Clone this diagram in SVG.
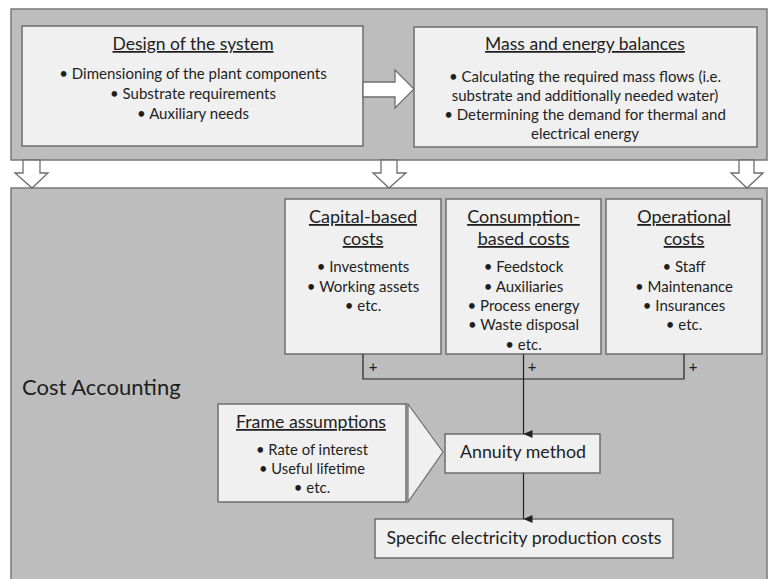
<svg xmlns="http://www.w3.org/2000/svg" width="769" height="579" viewBox="0 0 769 579">
<style>
.panel{fill:#bdbdbd;stroke:#7a7a7a;stroke-width:1.5}
.box{fill:#f0f0f0;stroke:#6e6e6e;stroke-width:1.5}
.barrow{fill:#ffffff;stroke:#6e6e6e;stroke-width:1.3}
.t{font-family:Lato,"Open Sans",sans-serif;fill:#1e1e1e;text-anchor:middle}
.h{font-size:17.5px;text-decoration:underline}
.hc{font-size:18px;text-decoration:underline}
.b{font-size:15px}
.ln{stroke:#222;stroke-width:1.2;fill:none}
</style>
<defs>
<marker id="ah" markerWidth="10" markerHeight="10" refX="5" refY="9" orient="auto" markerUnits="userSpaceOnUse" viewBox="0 0 10 10">
<path d="M1,0 L5,9 L9,0 Z" fill="#222"/>
</marker>
</defs>
<rect width="769" height="579" fill="#ffffff"/>
<g id="top-panel"><rect class="panel" x="11" y="9" width="756" height="151"/></g>
<g id="bottom-panel"><rect class="panel" x="11" y="188" width="756" height="400"/>
<text class="t" x="22" y="395" style="font-size:22px;text-anchor:start">Cost Accounting</text></g>

<g id="design">
<rect class="box" x="22" y="26" width="341" height="120"/>
<text class="t h" x="193" y="50">Design of the system</text>
<text class="t b" x="193" y="79">• Dimensioning of the plant components</text>
<text class="t b" x="193" y="99">• Substrate requirements</text>
<text class="t b" x="193" y="119">• Auxiliary needs</text>
</g>
<g id="mass">
<rect class="box" x="414" y="27" width="343" height="120"/>
<text class="t h" x="585" y="50">Mass and energy balances</text>
<text class="t b" x="585" y="82">• Calculating the required mass flows (i.e.</text>
<text class="t b" x="585" y="101">substrate and additionally needed water)</text>
<text class="t b" x="585" y="120">• Determining the demand for thermal and</text>
<text class="t b" x="585" y="139">electrical energy</text>
</g>

<g id="capital">
<rect class="box" x="285" y="199" width="156" height="155"/>
<text class="t hc" x="363" y="223">Capital-based</text>
<text class="t hc" x="363" y="245">costs</text>
<text class="t b" x="363" y="272">• Investments</text>
<text class="t b" x="363" y="292">• Working assets</text>
<text class="t b" x="363" y="311">• etc.</text>
</g>
<g id="consumption">
<rect class="box" x="446" y="199" width="155" height="155"/>
<text class="t hc" x="523.5" y="223">Consumption-</text>
<text class="t hc" x="523.5" y="245">based costs</text>
<text class="t b" x="523.5" y="272">• Feedstock</text>
<text class="t b" x="523.5" y="292">• Auxiliaries</text>
<text class="t b" x="523.5" y="311">• Process energy</text>
<text class="t b" x="523.5" y="330">• Waste disposal</text>
<text class="t b" x="523.5" y="350">• etc.</text>
</g>
<g id="operational">
<rect class="box" x="606" y="199" width="156" height="155"/>
<text class="t hc" x="684" y="223">Operational</text>
<text class="t hc" x="684" y="245">costs</text>
<text class="t b" x="684" y="272">• Staff</text>
<text class="t b" x="684" y="292">• Maintenance</text>
<text class="t b" x="684" y="311">• Insurances</text>
<text class="t b" x="684" y="330">• etc.</text>
</g>

<g id="frame">
<rect class="box" x="218" y="404" width="188" height="98"/>
<polygon class="box" points="408,404 443,452 408,502" style="stroke-width:1.2"/>
<text class="t h" x="311" y="428" textLength="150" lengthAdjust="spacingAndGlyphs">Frame assumptions</text>
<text class="t b" x="312" y="455" textLength="112" lengthAdjust="spacingAndGlyphs">• Rate of interest</text>
<text class="t b" x="312" y="474" textLength="106" lengthAdjust="spacingAndGlyphs">• Useful lifetime</text>
<text class="t b" x="312" y="493">• etc.</text>
</g>
<g id="annuity">
<rect class="box" x="445" y="434" width="155" height="39"/>
<text class="t" x="523" y="458" style="font-size:18px" textLength="126" lengthAdjust="spacingAndGlyphs">Annuity method</text>
</g>
<g id="specific">
<rect class="box" x="375" y="519" width="298" height="39"/>
<text class="t" x="524" y="544" style="font-size:18px" textLength="275" lengthAdjust="spacingAndGlyphs">Specific electricity production costs</text>
</g>

<g id="connectors">
<polygon class="barrow" points="363,82 395,82 395,70 414,89 395,108 395,97 363,97"/>
<polygon class="barrow" points="23,160 40,160 40,173 48,173 32,188 15,173 23,173"/>
<polygon class="barrow" points="381,160 397,160 397,173 406,173 389,188 373,173 381,173"/>
<polygon class="barrow" points="739,160 754,160 754,173 763,173 747,188 731,173 739,173"/>
<polyline class="ln" points="363,354 363,379 684,379 684,354"/>
<line class="ln" x1="523.5" y1="354" x2="523.5" y2="434" marker-end="url(#ah)"/>
<line class="ln" x1="523.5" y1="473" x2="523.5" y2="519" marker-end="url(#ah)"/>
<text class="t" x="373" y="372" style="font-size:15px">+</text>
<text class="t" x="532" y="372" style="font-size:15px">+</text>
<text class="t" x="693" y="372" style="font-size:15px">+</text>
</g>
</svg>
